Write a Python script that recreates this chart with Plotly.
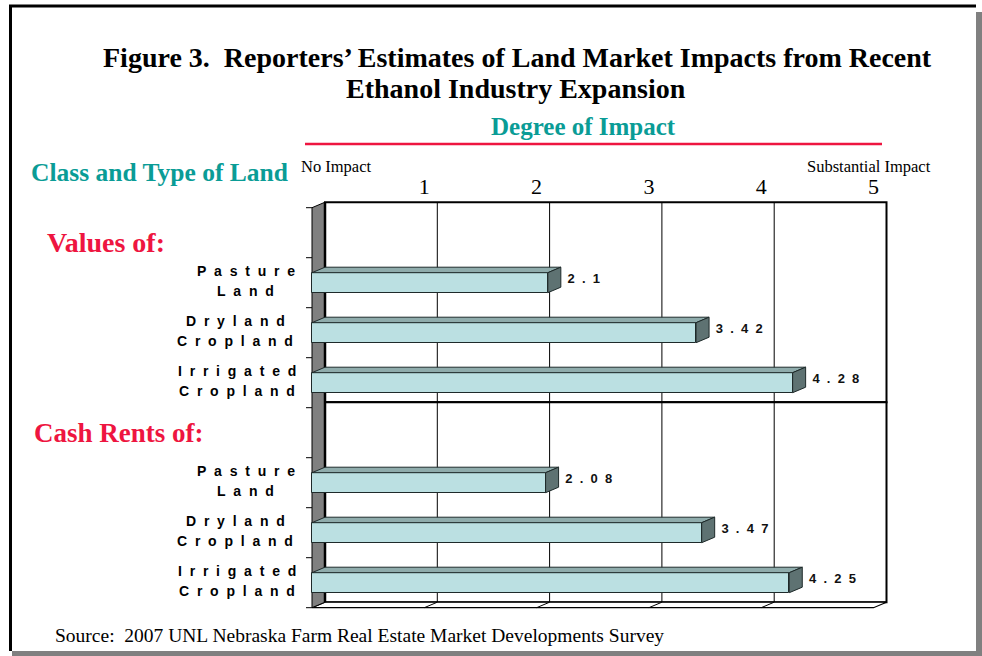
import plotly.graph_objects as go

# data
groups = ["Values of:", "Cash Rents of:"]
land_types = ["Pasture Land", "Dryland Cropland", "Irrigated Cropland"]
land_values = [2.1, 3.42, 4.28]
cash_rents = [2.08, 3.47, 4.25]
impact_ticks = [1, 2, 3, 4, 5]

W, H = 982, 656
X0, UNIT = 312, 112.3          # pixel of value 0 on front plane, px per unit
SLOT0, SLOT = 232.7, 50        # pixel center of first slot, px per slot
DX = 13 / UNIT                 # 3d depth in x units
DY = -5.5 / SLOT               # 3d depth in slot units (upwards)
BW = 0.4                       # bar thickness in slots
TEAL = "#0A9C96"
RED = "#EE1540"


def px(x):
    return x / W


def py(y):
    return 1 - y / H


def spaced(s, sep="\u00a0\u00a0"):
    return sep.join(list(s))


fig = go.Figure()

# slot positions: empty slot for group header, then the three land types
slots, vals = [], []
for g, series in enumerate([land_values, cash_rents]):
    for i, v in enumerate(series):
        slots.append(g * 4 + 1 + i)
        vals.append(v)

# front faces
fig.add_trace(go.Bar(
    x=vals, y=slots, base=0, orientation="h", width=BW,
    marker=dict(color="#BBE0E2", line=dict(color="#1E2A2A", width=1)),
    hoverinfo="skip", showlegend=False,
))

# top and side faces
for s, v in zip(slots, vals):
    top = s - BW / 2
    bot = s + BW / 2
    fig.add_trace(go.Scatter(
        x=[0, v, v + DX, DX, 0], y=[top, top, top + DY, top + DY, top],
        mode="lines", fill="toself", fillcolor="#8FACAC",
        line=dict(color="#1E2A2A", width=1), hoverinfo="skip", showlegend=False,
    ))
    fig.add_trace(go.Scatter(
        x=[v, v + DX, v + DX, v, v], y=[top, top + DY, bot + DY, bot, top],
        mode="lines", fill="toself", fillcolor="#5E7272",
        line=dict(color="#1E2A2A", width=1), hoverinfo="skip", showlegend=False,
    ))

# value labels
fig.add_trace(go.Scatter(
    x=[v + DX + 0.06 for v in vals], y=[s - 0.06 for s in slots],
    mode="text", text=[spaced(f"{v:g}") for v in vals],
    textposition="middle right",
    textfont=dict(family="Liberation Sans, Arial", size=13, color="#111111", weight="bold"),
    hoverinfo="skip", showlegend=False, cliponaxis=False,
))

shapes = []
xmax = impact_ticks[-1]
# back walls for the two panels
for p in range(2):
    ytop = -0.5 + 4 * p + DY
    ybot = 3.5 + 4 * p + DY
    shapes.append(dict(type="rect", xref="x", yref="y", x0=DX, x1=xmax + DX,
                       y0=ytop, y1=ybot, line=dict(color="black", width=2),
                       fillcolor="white", layer="below"))
    for k in impact_ticks[:-1]:
        shapes.append(dict(type="line", xref="x", yref="y", x0=k + DX, x1=k + DX,
                           y0=ytop, y1=ybot, line=dict(color="black", width=1),
                           layer="below"))
    # floor
    yf = 3.5 + 4 * p
    shapes.append(dict(type="path", xref="x", yref="y",
                       path=f"M0,{yf} L{xmax},{yf} L{xmax + DX},{yf + DY} L{DX},{yf + DY} Z",
                       line=dict(color="black", width=1.2), fillcolor="white",
                       layer="below"))
    for k in impact_ticks[:-1]:
        shapes.append(dict(type="line", xref="x", yref="y", x0=k, x1=k + DX,
                           y0=yf, y1=yf + DY, line=dict(color="black", width=1),
                           layer="below"))

# left wall
shapes.append(dict(type="path", xref="x", yref="y",
                   path=f"M0,-0.5 L{DX},{-0.5 + DY} L{DX},{7.5 + DY} L0,7.5 Z",
                   line=dict(color="black", width=1), fillcolor="#808080",
                   layer="below"))
shapes.append(dict(type="line", xref="x", yref="y", x0=DX, x1=DX,
                   y0=-0.5 + DY, y1=7.5 + DY, line=dict(color="black", width=2.5),
                   layer="below"))
# category ticks on the wall
for b in range(9):
    shapes.append(dict(type="line", xref="x", yref="y", x0=-6 / UNIT, x1=0,
                       y0=b - 0.5, y1=b - 0.5, line=dict(color="black", width=1),
                       layer="below"))

# outer frame with shadow
shapes += [
    dict(type="rect", xref="paper", yref="paper", x0=px(976), x1=px(982),
         y0=py(656), y1=py(12), fillcolor="#808080", line=dict(width=0)),
    dict(type="rect", xref="paper", yref="paper", x0=px(12), x1=px(982),
         y0=py(656), y1=py(651), fillcolor="#808080", line=dict(width=0)),
    dict(type="line", xref="paper", yref="paper", x0=px(9), x1=px(976),
         y0=py(6), y1=py(6), line=dict(color="black", width=3)),
    dict(type="line", xref="paper", yref="paper", x0=px(10.5), x1=px(10.5),
         y0=py(6), y1=py(651), line=dict(color="black", width=3)),
    dict(type="line", xref="paper", yref="paper", x0=px(305), x1=px(882),
         y0=py(144), y1=py(144), line=dict(color=RED, width=2.5)),
]

serif = "Liberation Serif, Times New Roman, serif"
annotations = [
    dict(text="Figure 3.  Reporters’ Estimates of Land Market Impacts from Recent",
         x=px(517), y=py(57), xanchor="center", yanchor="middle", showarrow=False,
         font=dict(family=serif, size=28, color="black", weight="bold")),
    dict(text="Ethanol Industry Expansion",
         x=px(516), y=py(88), xanchor="center", yanchor="middle", showarrow=False,
         font=dict(family=serif, size=28, color="black", weight="bold")),
    dict(text="Degree of Impact", x=px(583), y=py(126), xanchor="center", yanchor="middle",
         showarrow=False, font=dict(family=serif, size=25, color=TEAL, weight="bold")),
    dict(text="Class and Type of Land", x=px(29), y=py(172), xanchor="left", yanchor="middle",
         showarrow=False, font=dict(family=serif, size=25.5, color=TEAL, weight="bold")),
    dict(text="No Impact", x=px(299), y=py(166), xanchor="left", yanchor="middle",
         showarrow=False, font=dict(family=serif, size=16.5, color="black")),
    dict(text="Substantial Impact", x=px(933), y=py(166), xanchor="right", yanchor="middle",
         showarrow=False, font=dict(family=serif, size=16.5, color="black")),
    dict(text="Source:  2007 UNL Nebraska Farm Real Estate Market Developments Survey",
         x=px(53), y=py(635), xanchor="left", yanchor="middle", showarrow=False,
         font=dict(family=serif, size=19.5, color="black")),
]
for a in annotations:
    a.update(xref="paper", yref="paper")
for g, (name, xl, dy) in enumerate(zip(groups, [45, 32], [0.2, 0.0])):
    annotations.append(dict(text=name, x=px(xl), xref="paper", y=g * 4 + dy, yref="y",
                            xanchor="left", yanchor="middle", showarrow=False,
                            font=dict(family=serif, size=[28, 27][g], color=RED, weight="bold")))
label_cx = [246, 235, 237]
for g in range(2):
    for i, name in enumerate(land_types):
        for j, word in enumerate(name.split(" ")):
            annotations.append(dict(text=spaced(word),
                                    x=px(label_cx[i]), xref="paper",
                                    y=g * 4 + 1 + i + (j - 0.5) * 0.4 - 0.04, yref="y",
                                    xanchor="center", yanchor="middle", showarrow=False,
                                    font=dict(family="Liberation Sans, Arial", size=14,
                                              color="black", weight="bold")))

fig.update_layout(
    width=W, height=H, margin=dict(l=0, r=0, t=0, b=0),
    paper_bgcolor="white", plot_bgcolor="rgba(0,0,0,0)",
    bargap=0, showlegend=False,
    shapes=shapes, annotations=annotations,
    xaxis=dict(domain=[px(300), px(905)],
               range=[(300 - X0) / UNIT, (905 - X0) / UNIT],
               side="top", anchor="free", position=py(198),
               tickvals=impact_ticks, ticktext=[str(t) for t in impact_ticks],
               tickfont=dict(family=serif, size=22, color="black"),
               showgrid=False, zeroline=False, showline=False, ticks=""),
    yaxis=dict(domain=[py(620), py(190)],
               range=[(620 - SLOT0) / SLOT, (190 - SLOT0) / SLOT],
               showgrid=False, zeroline=False, showline=False,
               showticklabels=False, ticks=""),
)

fig.write_html("out.html", config={"displayModeBar": False},
               post_script="document.body.style.margin='0';")
